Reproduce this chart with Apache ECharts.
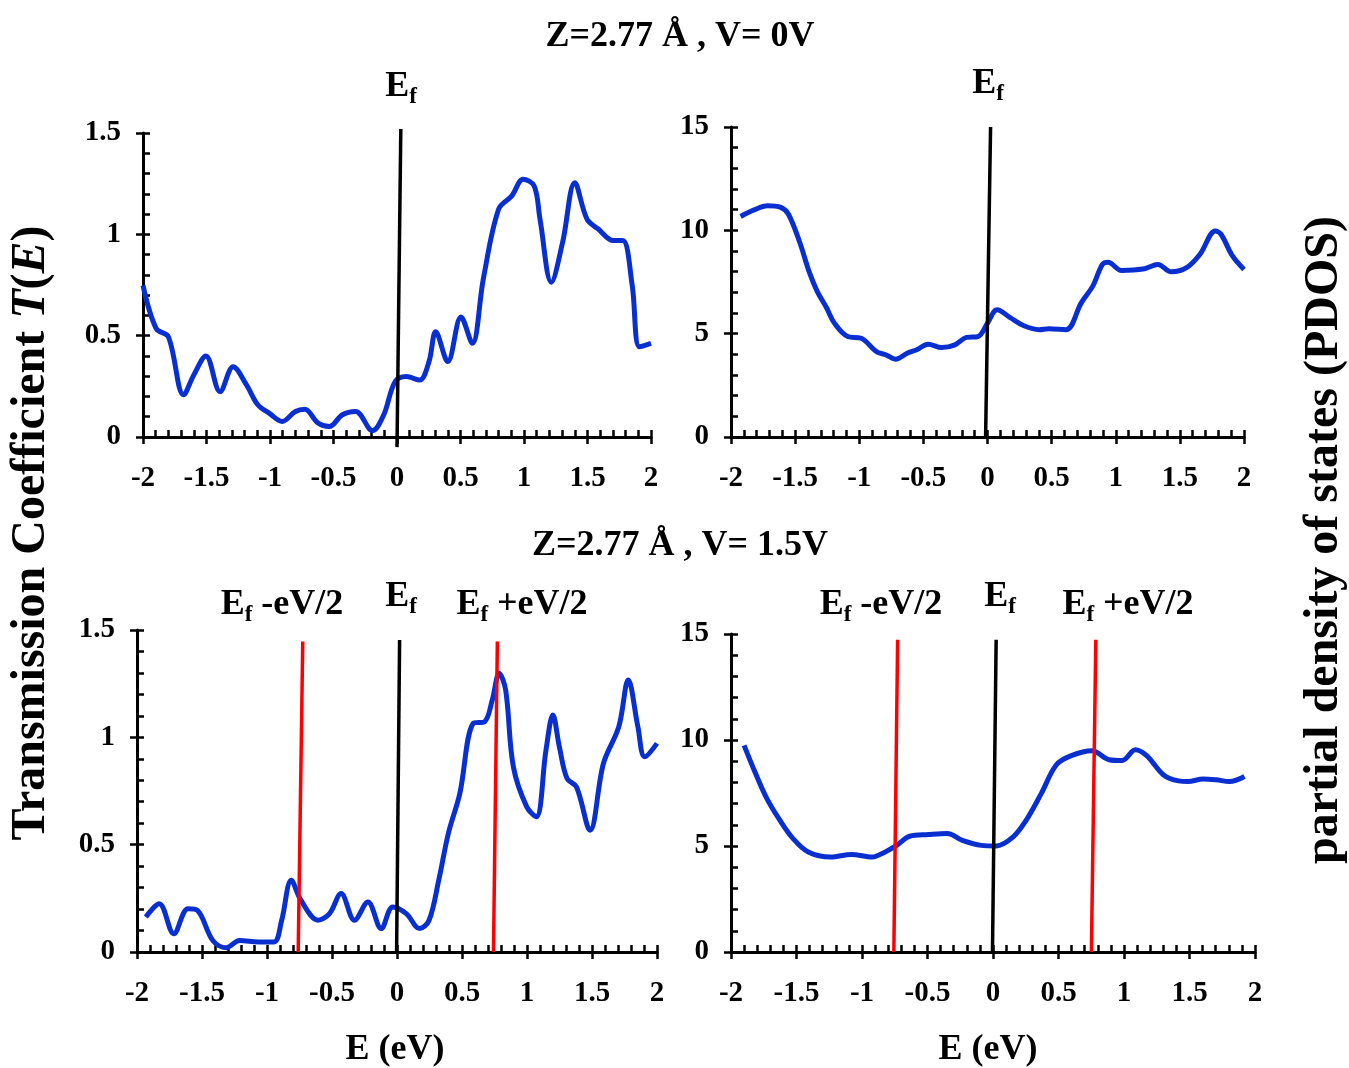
<!DOCTYPE html>
<html>
<head>
<meta charset="utf-8">
<script src="https://cdn.jsdelivr.net/npm/echarts@6/dist/echarts.min.js"></script>
<style>
html,body{margin:0;padding:0;background:#fff;}
#chart{width:1349px;height:1068px;}
</style>
</head>
<body>
<div id="chart"></div>
<script>
// ---------- DATA ----------
// Top-left: T(E), V = 0 V
const tlE = [-2,-1.896,-1.8,-1.68,-1.6,-1.505,-1.393,-1.29,-1.185,-1.096,-1.007,-0.904,-0.8,-0.726,-0.622,-0.533,-0.43,-0.326,-0.193,-0.104,-0.015,0.074,0.178,0.252,0.305,0.4,0.504,0.593,0.68,0.8,0.904,0.993,1.08,1.126,1.215,1.304,1.4,1.496,1.585,1.704,1.778,1.852,1.91,2.0];
const tlT = [0.748,0.535,0.494,0.208,0.306,0.40,0.224,0.347,0.257,0.159,0.118,0.077,0.126,0.137,0.069,0.052,0.11,0.126,0.031,0.11,0.273,0.298,0.281,0.372,0.519,0.372,0.592,0.462,0.781,1.124,1.19,1.272,1.239,1.075,0.764,0.96,1.255,1.075,1.026,0.969,0.969,0.748,0.445,0.462];
// Top-right: PDOS, V = 0 V
const trE = [-1.925,-1.82,-1.716,-1.612,-1.552,-1.463,-1.388,-1.328,-1.254,-1.194,-1.09,-0.985,-0.866,-0.79,-0.716,-0.627,-0.552,-0.463,-0.358,-0.254,-0.164,-0.075,0.0,0.075,0.18,0.284,0.403,0.478,0.612,0.731,0.821,0.896,0.94,1.045,1.224,1.328,1.433,1.552,1.657,1.776,1.821,1.91,2.0];
const trD = [10.67,10.99,11.19,11.11,10.78,9.4,7.95,7.05,6.24,5.51,4.86,4.78,4.13,3.97,3.76,4.05,4.22,4.49,4.33,4.46,4.82,4.86,5.51,6.16,5.76,5.38,5.19,5.24,5.19,6.49,7.3,8.35,8.46,8.06,8.14,8.35,7.99,8.19,8.84,9.97,9.81,8.76,8.11];
// Bottom-left: T(E), V = 1.5 V
const blE = [-1.932,-1.829,-1.717,-1.608,-1.535,-1.417,-1.314,-1.21,-1.063,-0.946,-0.887,-0.813,-0.739,-0.607,-0.519,-0.43,-0.327,-0.224,-0.121,-0.032,0.071,0.174,0.247,0.321,0.395,0.483,0.586,0.674,0.733,0.786,0.836,0.895,0.998,1.072,1.146,1.199,1.249,1.308,1.381,1.485,1.588,1.706,1.779,1.853,1.906,2.0];
const blT = [0.163,0.225,0.085,0.202,0.194,0.054,0.02,0.054,0.047,0.047,0.148,0.334,0.241,0.148,0.179,0.272,0.148,0.233,0.109,0.21,0.179,0.109,0.148,0.334,0.552,0.738,1.065,1.073,1.174,1.298,1.22,0.863,0.676,0.63,0.94,1.104,0.956,0.808,0.769,0.567,0.878,1.049,1.267,1.049,0.909,0.972];
// Bottom-right: PDOS, V = 1.5 V
const brE = [-1.9,-1.813,-1.727,-1.627,-1.526,-1.411,-1.239,-1.081,-0.923,-0.823,-0.736,-0.636,-0.492,-0.349,-0.234,-0.09,0.024,0.154,0.254,0.369,0.484,0.598,0.756,0.886,0.986,1.087,1.173,1.302,1.417,1.489,1.604,1.704,1.805,1.92];
const brD = [9.75,8.43,7.25,6.22,5.35,4.72,4.48,4.6,4.48,4.72,5.03,5.46,5.54,5.59,5.27,5.03,5.0,5.43,6.22,7.48,8.83,9.26,9.49,9.07,9.03,9.54,9.26,8.35,8.07,8.04,8.16,8.12,8.04,8.28];

// Fermi-level / bias-window marker lines (E, value) endpoints
const efTopLeft  = [[0.0,-0.05],[0.03,1.52]];
const efTopRight = [[-0.015,-0.08],[0.024,15.0]];
const efBotLeft  = [[-0.003,0],[0.02,1.453]];
const loBotLeft  = [[-0.76,0],[-0.725,1.446]];
const hiBotLeft  = [[0.742,0],[0.772,1.446]];
const efBotRight = [[-0.004,0],[0.024,14.73]];
const loBotRight = [[-0.757,0],[-0.728,14.73]];
const hiBotRight = [[0.751,0],[0.785,14.73]];

// Axis ranges
const xRange = [-2, 2];
const tRange = [0, 1.5];
const dRange = [0, 15];

// Texts
const title1 = 'Z=2.77 Å , V= 0V';
const title2 = 'Z=2.77 Å , V= 1.5V';
const yTitleLeft = 'Transmission Coefficient ';
const yTitleLeftItalic = 'T';
const yTitleRight = 'partial density of states (PDOS)';
const xTitle = 'E (eV)';

// ---------- BUILD ----------
const zip = (a, b) => a.map((v, i) => [v, b[i]]);
const SERIF = '"Liberation Serif","Times New Roman",serif';
const BLUE = '#0a2fd0';

const grids = [
  {left: 143, top: 133, width: 508, height: 304},
  {left: 731, top: 127, width: 513, height: 310},
  {left: 137, top: 630, width: 520, height: 322},
  {left: 731, top: 634, width: 524, height: 318}
];

const xAxes = [], yAxes = [];
grids.forEach((g, i) => {
  const yr = (i % 2 === 0) ? tRange : dRange;
  const yMajor = (i % 2 === 0) ? 0.5 : 5;
  const yMinor = (i % 2 === 0) ? 0.1 : 1;
  xAxes.push({
    type: 'value', gridIndex: i, min: xRange[0], max: xRange[1], interval: 0.5, position: 'bottom',
    axisLine: {show: true, onZero: false, lineStyle: {color: '#000', width: 3}},
    axisTick: {show: true, inside: false, length: 7, lineStyle: {color: '#000', width: 2.5}},
    axisLabel: {show: true, margin: 27, color: '#000', fontFamily: SERIF, fontWeight: 'bold', fontSize: 29,
      showMinLabel: true, showMaxLabel: true, hideOverlap: false},
    splitLine: {show: false}
  });
  xAxes.push({
    type: 'value', gridIndex: i, min: xRange[0], max: xRange[1], interval: 0.1, position: 'bottom',
    axisLine: {show: false, onZero: false},
    axisTick: {show: true, inside: true, length: 7, lineStyle: {color: '#000', width: 2.5}},
    axisLabel: {show: false}, splitLine: {show: false}
  });
  yAxes.push({
    type: 'value', gridIndex: i, min: yr[0], max: yr[1], interval: yMajor, position: 'left',
    axisLine: {show: true, onZero: false, lineStyle: {color: '#000', width: 3}},
    axisTick: {show: true, inside: false, length: 7, lineStyle: {color: '#000', width: 2.5}},
    axisLabel: {show: true, margin: 22, color: '#000', fontFamily: SERIF, fontWeight: 'bold', fontSize: 29,
      showMinLabel: true, showMaxLabel: true, hideOverlap: false},
    splitLine: {show: false}
  });
  yAxes.push({
    type: 'value', gridIndex: i, min: yr[0], max: yr[1], interval: yMinor, position: 'left',
    axisLine: {show: false, onZero: false},
    axisTick: {show: true, inside: true, length: 7, lineStyle: {color: '#000', width: 2.5}},
    axisLabel: {show: false}, splitLine: {show: false}
  });
});

function curve(gi, data) {
  return {type: 'line', xAxisIndex: gi * 2, yAxisIndex: gi * 2, data: data, smooth: 0.35,
    showSymbol: false, symbol: 'none', lineStyle: {color: BLUE, width: 5}, z: 3, silent: true};
}
function marker(gi, data, color) {
  return {type: 'line', xAxisIndex: gi * 2, yAxisIndex: gi * 2, data: data, clip: false,
    showSymbol: false, symbol: 'none', lineStyle: {color: color, width: 3.5}, z: 4, silent: true};
}

const series = [
  curve(0, zip(tlE, tlT)),
  curve(1, zip(trE, trD)),
  curve(2, zip(blE, blT)),
  curve(3, zip(brE, brD)),
  marker(0, efTopLeft, '#000'),
  marker(1, efTopRight, '#000'),
  marker(2, efBotLeft, '#000'),
  marker(2, loBotLeft, '#ff0000'),
  marker(2, hiBotLeft, '#ff0000'),
  marker(3, efBotRight, '#000'),
  marker(3, loBotRight, '#ff0000'),
  marker(3, hiBotRight, '#ff0000')
];

// text helpers
const ctx = document.createElement('canvas').getContext('2d');
function textW(font, s) { ctx.font = font; return ctx.measureText(s).width; }
function fnt(size, italic) { return (italic ? 'italic ' : '') + 'bold ' + size + 'px ' + SERIF; }

const graphics = [];
function addText(x, y, s, size, align, italic, rot) {
  graphics.push({type: 'text', x: x, y: y, rotation: rot || 0, silent: true,
    style: {text: s, font: fnt(size, italic), fill: '#000', align: align || 'center', verticalAlign: 'middle'}});
}
// E_f label with optional suffix, centered on cx, E's middle at cy
function efLabel(cx, cy, suffix) {
  const bs = 36, ss = 23;
  const wE = textW(fnt(bs), 'E');
  const wf = textW(fnt(ss), 'f');
  const wS = suffix ? textW(fnt(bs), suffix) : 0;
  const total = wE + wf + wS;
  let x = cx - total / 2;
  addText(x, cy, 'E', bs, 'left');
  addText(x + wE, cy + 10, 'f', ss, 'left');
  if (suffix) addText(x + wE + wf, cy, suffix, bs, 'left');
}

addText(680, 37, title1, 36, 'center');
addText(680, 546, title2, 36, 'center');

efLabel(401, 87, '');
efLabel(988, 84, '');
efLabel(282, 605, ' -eV/2');
efLabel(401, 597, '');
efLabel(522, 605, ' +eV/2');
efLabel(881, 605, ' -eV/2');
efLabel(1000, 597, '');
efLabel(1128, 605, ' +eV/2');

addText(395, 1050, xTitle, 36, 'center');
addText(988, 1050, xTitle, 36, 'center');

// Left rotated title with italic T(E)
(function () {
  const size = 48;
  const parts = [[yTitleLeft, false], [yTitleLeftItalic, true], ['(', false], ['E', true], [')', false]];
  const widths = parts.map(p => textW(fnt(size, p[1]), p[0]));
  const total = widths.reduce((a, b) => a + b, 0);
  const cx = 32, cy = 533;
  let off = -total / 2;
  parts.forEach((p, i) => {
    graphics.push({type: 'text', x: cx, y: cy - off, rotation: Math.PI / 2, silent: true,
      style: {text: p[0], font: fnt(size, p[1]), fill: '#000', align: 'left', verticalAlign: 'middle'}});
    off += widths[i];
  });
})();
graphics.push({type: 'text', x: 1325, y: 540, rotation: Math.PI / 2, silent: true,
  style: {text: yTitleRight, font: fnt(48), fill: '#000', align: 'center', verticalAlign: 'middle'}});

const chart = echarts.init(document.getElementById('chart'), null, {renderer: 'canvas'});
chart.setOption({
  backgroundColor: '#fff',
  animation: false,
  grid: grids.map(g => Object.assign({containLabel: false}, g)),
  xAxis: xAxes,
  yAxis: yAxes,
  series: series,
  graphic: {elements: graphics}
});
</script>
</body>
</html>
